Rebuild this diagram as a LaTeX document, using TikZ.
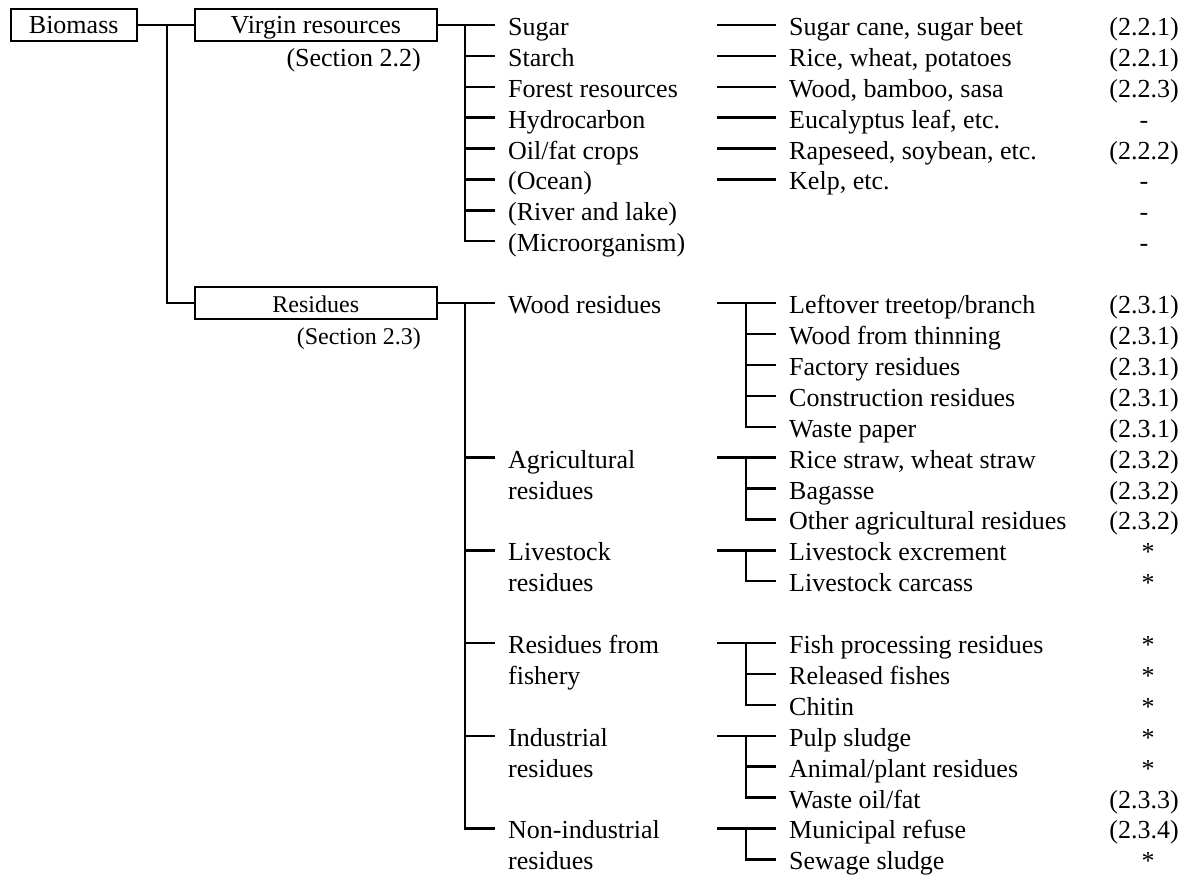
\documentclass[tikz,border=0pt]{standalone}
\usepackage{fontspec}
\setmainfont{Liberation Serif}
\newcommand{\tworows}[2]{\vtop{\hbox{#1}\hbox{#2}}}
\begin{document}
\begin{tikzpicture}[x=1pt,y=-30.9pt,
	every node/.style={font=\fontsize{26}{30.9}\selectfont},
	conn/.style={line width=2.4pt},
	catbox/.style={draw,line width=2.4pt,minimum height=32pt,inner sep=0pt,text height=18pt,text depth=0pt},
	itemtxt/.style={anchor=west,inner xsep=13pt,inner ysep=0pt,text height=21pt,text depth=0pt},
	numtxt/.style={inner sep=0pt,text height=21pt,text depth=0pt}]
		\useasboundingbox (0,-0.809) rectangle (1186,27.476);
		
		% main boxes
		\node[catbox,minimum width=126pt] (bio) at (73.7,0) {Biomass};
		\node[catbox,minimum width=242pt] (vir) at (315.8,0) {Virgin resources};
		\node[catbox,minimum width=242pt,font=\fontsize{24}{28}\selectfont] (res) at (315.8,9) {Residues};
		\node[numtxt,anchor=east] (vsec) at (421,1) {(Section 2.2)};
		\node[numtxt,anchor=east,font=\fontsize{24}{28}\selectfont] (rsec) at (421,10) {(Section 2.3)};
		\coordinate (jb) at (167,0);
		\draw[conn] (bio) -- (vir);
		\draw[conn] (jb) |- (res);
		
		% virgin resources
		\coordinate (jv) at (465,0);
		\draw[conn] (vir) -- (jv);
		\node[itemtxt] (sugar) at (495,0) {Sugar};
		\node[itemtxt] (starch) at (495,1) {Starch};
		\node[itemtxt] (forest) at (495,2) {Forest resources};
		\node[itemtxt] (hydro) at (495,3) {Hydrocarbon};
		\node[itemtxt] (oil) at (495,4) {Oil/fat crops};
		\node[itemtxt] (ocean) at (495,5) {(Ocean)};
		\node[itemtxt] (river) at (495,6) {(River and lake)};
		\node[itemtxt] (micro) at (495,7) {(Microorganism)};
		\foreach \n in {sugar,starch,forest,hydro,oil,ocean,river,micro}
			\draw[conn] (jv) |- (\n);
		
		\node[itemtxt] (cane) at (776,0) {Sugar cane, sugar beet};
		\node[itemtxt] (rice) at (776,1) {Rice, wheat, potatoes};
		\node[itemtxt] (bamboo) at (776,2) {Wood, bamboo, sasa};
		\node[itemtxt] (eucal) at (776,3) {Eucalyptus leaf, etc.};
		\node[itemtxt] (rape) at (776,4) {Rapeseed, soybean, etc.};
		\node[itemtxt] (kelp) at (776,5) {Kelp, etc.};
		\foreach \n/\r in {cane/0,rice/1,bamboo/2,eucal/3,rape/4,kelp/5}{
			\coordinate (k\n) at (717,\r);
			\draw[conn] (k\n) -- (\n);
		}
		
		% residues
		\coordinate (jr) at (465,9);
		\draw[conn] (res) -- (jr);
		\node[itemtxt] (wood) at (495,9) {Wood residues};
		\node[itemtxt] (agri) at (495,14) {\tworows{Agricultural}{residues}};
		\node[itemtxt] (live) at (495,17) {\tworows{Livestock}{residues}};
		\node[itemtxt] (fish) at (495,20) {\tworows{Residues from}{fishery}};
		\node[itemtxt] (indus) at (495,23) {\tworows{Industrial}{residues}};
		\node[itemtxt] (nonind) at (495,26) {\tworows{Non-industrial}{residues}};
		\foreach \n in {wood,agri,live,fish,indus,nonind}
			\draw[conn] (jr) |- (\n);
		
		\node[itemtxt] (treetop) at (776,9) {Leftover treetop/branch};
		\node[itemtxt] (thinning) at (776,10) {Wood from thinning};
		\node[itemtxt] (factory) at (776,11) {Factory residues};
		\node[itemtxt] (construct) at (776,12) {Construction residues};
		\node[itemtxt] (paper) at (776,13) {Waste paper};
		\node[itemtxt] (straw) at (776,14) {Rice straw, wheat straw};
		\node[itemtxt] (bagasse) at (776,15) {Bagasse};
		\node[itemtxt] (otheragri) at (776,16) {Other agricultural residues};
		\node[itemtxt] (excrement) at (776,17) {Livestock excrement};
		\node[itemtxt] (carcass) at (776,18) {Livestock carcass};
		\node[itemtxt] (fishproc) at (776,20) {Fish processing residues};
		\node[itemtxt] (released) at (776,21) {Released fishes};
		\node[itemtxt] (chitin) at (776,22) {Chitin};
		\node[itemtxt] (pulp) at (776,23) {Pulp sludge};
		\node[itemtxt] (animal) at (776,24) {Animal/plant residues};
		\node[itemtxt] (wasteoil) at (776,25) {Waste oil/fat};
		\node[itemtxt] (refuse) at (776,26) {Municipal refuse};
		\node[itemtxt] (sewage) at (776,27) {Sewage sludge};
		
		\foreach \g/\r in {wood/9,agri/14,live/17,fish/20,indus/23,nonind/26}{
			\coordinate (k\g) at (717,\r);
			\coordinate (j\g) at (746,\r);
			\draw[conn] (k\g) -- (j\g);
		}
		\foreach \n in {treetop,thinning,factory,construct,paper}
			\draw[conn] (jwood) |- (\n);
		\foreach \n in {straw,bagasse,otheragri}
			\draw[conn] (jagri) |- (\n);
		\foreach \n in {excrement,carcass}
			\draw[conn] (jlive) |- (\n);
		\foreach \n in {fishproc,released,chitin}
			\draw[conn] (jfish) |- (\n);
		\foreach \n in {pulp,animal,wasteoil}
			\draw[conn] (jindus) |- (\n);
		\foreach \n in {refuse,sewage}
			\draw[conn] (jnonind) |- (\n);
		
		% section numbers
		\foreach \i/\t in {0/{(2.2.1)},1/{(2.2.1)},2/{(2.2.3)},4/{(2.2.2)},
			9/{(2.3.1)},10/{(2.3.1)},11/{(2.3.1)},12/{(2.3.1)},13/{(2.3.1)},
			14/{(2.3.2)},15/{(2.3.2)},16/{(2.3.2)},25/{(2.3.3)},26/{(2.3.4)}}
			\node[numtxt,anchor=east] (n\i) at (1179,\i) {\t};
		\foreach \i in {3,5,6,7}
			\node[numtxt] (n\i) at (1144,\i) {-};
		\foreach \i in {17,18,20,21,22,23,24,27}
			\node[numtxt] (n\i) at (1148,\i) {*};
\end{tikzpicture}
\end{document}
